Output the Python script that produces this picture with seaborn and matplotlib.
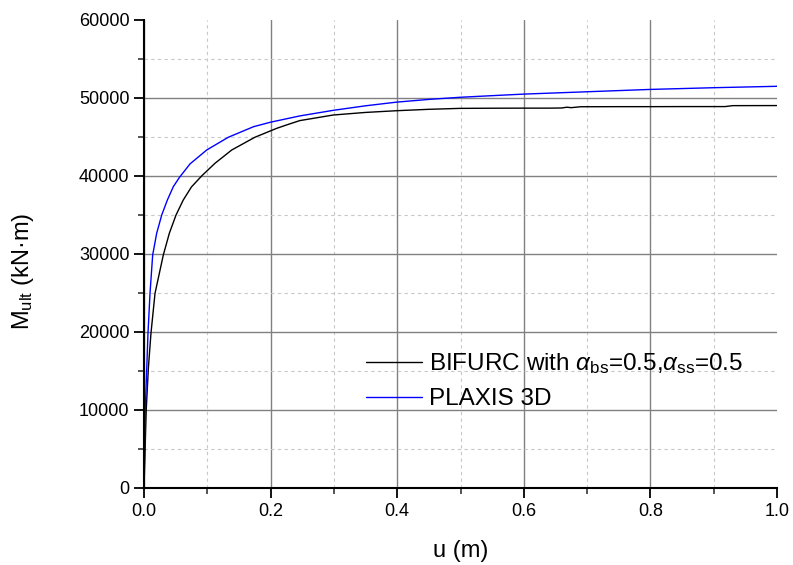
import numpy as np
import pandas as pd
import matplotlib
matplotlib.use("Agg")
import matplotlib.pyplot as plt
import seaborn as sns
from matplotlib.ticker import MultipleLocator, FixedLocator

# ---- data ----
u_bifurc = [0, 0.0035, 0.007, 0.011, 0.0174, 0.0305, 0.040, 0.0506, 0.062, 0.075,
            0.091, 0.112, 0.1385, 0.175, 0.2096, 0.225, 0.246, 0.299, 0.35, 0.399,
            0.45, 0.499, 0.55, 0.6, 0.64, 0.66, 0.668, 0.675, 0.69, 0.75, 0.8,
            0.85, 0.9, 0.918, 0.93, 1.0]
m_bifurc = [0, 10000, 15500, 19830, 24960, 29870, 32650, 35000, 36920, 38600,
            40000, 41620, 43330, 44960, 46110, 46540, 47100, 47820, 48150, 48370,
            48550, 48670, 48690, 48700, 48700, 48720, 48820, 48760, 48880, 48890,
            48890, 48900, 48900, 48900, 49020, 49030]

u_plaxis = [0, 0.002, 0.0063, 0.0095, 0.0137, 0.020, 0.028, 0.0369, 0.0463, 0.0558,
            0.0727, 0.099, 0.133, 0.173, 0.2, 0.246, 0.299, 0.35, 0.399, 0.45,
            0.499, 0.55, 0.6, 0.65, 0.7, 0.8, 0.9, 1.0]
m_plaxis = [0, 10000, 19830, 24960, 29870, 32650, 35000, 36920, 38630, 39800,
            41550, 43330, 44960, 46320, 46900, 47700, 48420, 49000, 49470, 49820,
            50090, 50300, 50500, 50650, 50800, 51100, 51320, 51500]

series_names = [r'BIFURC with $\mathit{\alpha}_{\rm bs}$=0.5,$\mathit{\alpha}_{\rm ss}$=0.5',
                'PLAXIS 3D']
x_ticks = [0.0, 0.2, 0.4, 0.6, 0.8, 1.0]
y_ticks = [0, 10000, 20000, 30000, 40000, 50000, 60000]

df = pd.concat([
    pd.DataFrame({'u': u_bifurc, 'M': m_bifurc, 'series': series_names[0]}),
    pd.DataFrame({'u': u_plaxis, 'M': m_plaxis, 'series': series_names[1]}),
])

sns.set_style("white")
plt.rcParams['font.family'] = ['Liberation Sans', 'DejaVu Sans']
plt.rcParams['mathtext.fontset'] = 'custom'
plt.rcParams['mathtext.rm'] = 'Liberation Sans'
plt.rcParams['mathtext.it'] = 'Liberation Sans:italic'
plt.rcParams['mathtext.default'] = 'regular'
plt.rcParams['text.color'] = 'black'
plt.rcParams['axes.labelcolor'] = 'black'

fig = plt.figure(figsize=(7.93, 5.65), dpi=100)
ax = fig.add_axes([144/793, 1-488/565, 633/793, 468/565])

sns.lineplot(data=df, x='u', y='M', hue='series', sort=False, estimator=None,
             palette=['black', '#0000ff'], linewidth=1.0, ax=ax)

ax.set_xlim(0, 1.0)
ax.set_ylim(0, 60000)
ax.xaxis.set_major_locator(FixedLocator(x_ticks))
ax.yaxis.set_major_locator(FixedLocator(y_ticks))
ax.xaxis.set_minor_locator(MultipleLocator(0.1))
ax.yaxis.set_minor_locator(MultipleLocator(5000))
ax.set_xticklabels([f"{v:.1f}" for v in x_ticks])
ax.set_yticklabels([f"{v:d}" for v in y_ticks])

ax.grid(True, which='major', color='#808080', linewidth=1.0, linestyle='-')
ax.grid(True, which='minor', color='#c8c8c8', linewidth=0.8, linestyle=(0, (3, 3)))
ax.set_axisbelow(True)
ax.xaxis.get_major_ticks()[-1].gridline.set_visible(False)
ax.yaxis.get_major_ticks()[-1].gridline.set_visible(False)

for s in ['top', 'right']:
    ax.spines[s].set_visible(False)
for s in ['left', 'bottom']:
    ax.spines[s].set_linewidth(1.5)
    ax.spines[s].set_color('black')

ax.tick_params(which='major', direction='out', length=7, width=1.3,
               labelsize=13, colors='black', left=True, bottom=True)
ax.tick_params(which='minor', direction='out', length=4, width=1.1,
               left=True, bottom=True)

ax.set_xlabel('u (m)', fontsize=17)
ax.set_ylabel(r'M$_{\rm ult}$ (kN·m)', fontsize=17)
ax.xaxis.set_label_coords(0.5, -0.1346)
ax.xaxis.label.set_va('center')
ax.yaxis.set_label_coords(-0.191, 0.4637)
ax.yaxis.label.set_va('center')

leg = ax.legend(loc='center left', bbox_to_anchor=(0.3507, 0.229), frameon=False,
                fontsize=17.5, handlelength=2.3, handletextpad=0.29,
                borderpad=0, borderaxespad=0, labelspacing=0.48)
for line in leg.get_lines():
    line.set_linewidth(1.0)

fig.savefig('out.png', dpi=100)
